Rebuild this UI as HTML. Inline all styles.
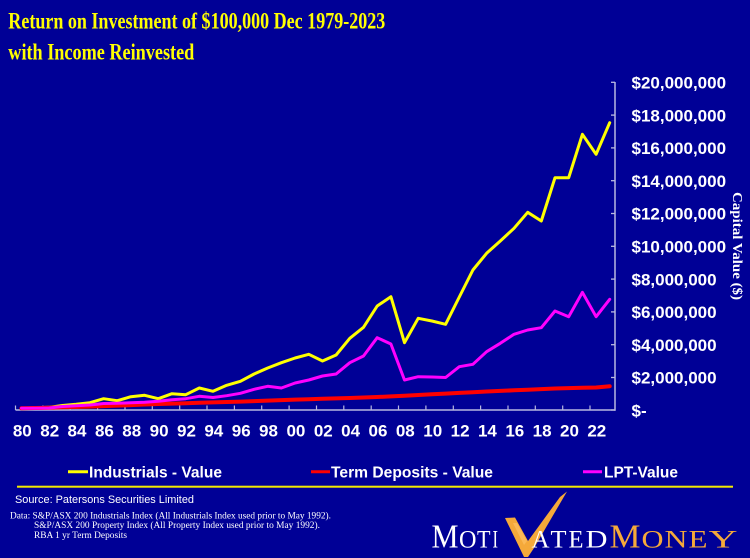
<!DOCTYPE html>
<html>
<head>
<meta charset="utf-8">
<style>
html,body{margin:0;padding:0;background:#000096;}
body{width:750px;height:558px;overflow:hidden;}
svg{display:block;}
</style>
</head>
<body>
<svg width="750" height="558" viewBox="0 0 750 558" xmlns="http://www.w3.org/2000/svg">
<rect x="0" y="0" width="750" height="558" fill="#000096"/>

<!-- Title -->
<text x="8.3" y="28.3" font-family="Liberation Serif, serif" font-weight="bold" font-size="23.5" fill="#FFFF00" textLength="377" lengthAdjust="spacingAndGlyphs">Return on Investment of $100,000 Dec 1979-2023</text>
<text x="8.3" y="59.3" font-family="Liberation Serif, serif" font-weight="bold" font-size="23.5" fill="#FFFF00" textLength="186" lengthAdjust="spacingAndGlyphs">with Income Reinvested</text>

<!-- Axes -->
<g stroke="#B8B8E0" stroke-width="1.5" fill="none">
  <line x1="15.5" y1="410" x2="615.5" y2="410"/>
  <line x1="615" y1="82" x2="615" y2="410.7"/>
</g>
<!-- y ticks -->
<g stroke="#B8B8E0" stroke-width="1.3">
  <line x1="611" y1="82.3" x2="615" y2="82.3"/>
  <line x1="611" y1="115.1" x2="615" y2="115.1"/>
  <line x1="611" y1="147.9" x2="615" y2="147.9"/>
  <line x1="611" y1="180.7" x2="615" y2="180.7"/>
  <line x1="611" y1="213.5" x2="615" y2="213.5"/>
  <line x1="611" y1="246.3" x2="615" y2="246.3"/>
  <line x1="611" y1="279.1" x2="615" y2="279.1"/>
  <line x1="611" y1="311.9" x2="615" y2="311.9"/>
  <line x1="611" y1="344.7" x2="615" y2="344.7"/>
  <line x1="611" y1="377.5" x2="615" y2="377.5"/>
  <line x1="611" y1="410" x2="615" y2="410"/>
</g>
<!-- x ticks -->
<g stroke="#B8B8E0" stroke-width="1.2">
  <line x1="15.5" y1="405.5" x2="15.5" y2="410"/>
  <line x1="42.9" y1="405.5" x2="42.9" y2="410"/>
  <line x1="70.2" y1="405.5" x2="70.2" y2="410"/>
  <line x1="97.6" y1="405.5" x2="97.6" y2="410"/>
  <line x1="125.0" y1="405.5" x2="125.0" y2="410"/>
  <line x1="152.3" y1="405.5" x2="152.3" y2="410"/>
  <line x1="179.7" y1="405.5" x2="179.7" y2="410"/>
  <line x1="207.0" y1="405.5" x2="207.0" y2="410"/>
  <line x1="234.4" y1="405.5" x2="234.4" y2="410"/>
  <line x1="261.7" y1="405.5" x2="261.7" y2="410"/>
  <line x1="289.1" y1="405.5" x2="289.1" y2="410"/>
  <line x1="316.5" y1="405.5" x2="316.5" y2="410"/>
  <line x1="343.8" y1="405.5" x2="343.8" y2="410"/>
  <line x1="371.2" y1="405.5" x2="371.2" y2="410"/>
  <line x1="398.5" y1="405.5" x2="398.5" y2="410"/>
  <line x1="425.9" y1="405.5" x2="425.9" y2="410"/>
  <line x1="453.3" y1="405.5" x2="453.3" y2="410"/>
  <line x1="480.6" y1="405.5" x2="480.6" y2="410"/>
  <line x1="508.0" y1="405.5" x2="508.0" y2="410"/>
  <line x1="535.3" y1="405.5" x2="535.3" y2="410"/>
  <line x1="562.7" y1="405.5" x2="562.7" y2="410"/>
  <line x1="590.0" y1="405.5" x2="590.0" y2="410"/>
</g>

<!-- Y labels -->
<g font-family="Liberation Sans, Arial, sans-serif" font-weight="bold" font-size="17" fill="#FFFFFF">
  <text x="631.5" y="88.5">$20,000,000</text>
  <text x="631.5" y="121.3">$18,000,000</text>
  <text x="631.5" y="154.1">$16,000,000</text>
  <text x="631.5" y="186.9">$14,000,000</text>
  <text x="631.5" y="219.7">$12,000,000</text>
  <text x="631.5" y="252.5">$10,000,000</text>
  <text x="631.5" y="285.3">$8,000,000</text>
  <text x="631.5" y="318.1">$6,000,000</text>
  <text x="631.5" y="350.9">$4,000,000</text>
  <text x="631.5" y="383.7">$2,000,000</text>
  <text x="631.5" y="416.3">$-</text>
</g>

<!-- Right axis title -->
<text transform="translate(733,246) rotate(90)" x="0" y="0" text-anchor="middle" font-family="Liberation Serif, serif" font-weight="bold" font-size="14" fill="#FFFFFF" textLength="108" lengthAdjust="spacingAndGlyphs">Capital Value ($)</text>

<!-- X labels -->
<g font-family="Liberation Sans, Arial, sans-serif" font-weight="bold" font-size="17" fill="#FFFFFF" text-anchor="middle">
  <text x="22.3" y="436.3">80</text>
  <text x="49.7" y="436.3">82</text>
  <text x="77.0" y="436.3">84</text>
  <text x="104.4" y="436.3">86</text>
  <text x="131.7" y="436.3">88</text>
  <text x="159.1" y="436.3">90</text>
  <text x="186.5" y="436.3">92</text>
  <text x="213.8" y="436.3">94</text>
  <text x="241.2" y="436.3">96</text>
  <text x="268.5" y="436.3">98</text>
  <text x="295.9" y="436.3">00</text>
  <text x="323.3" y="436.3">02</text>
  <text x="350.6" y="436.3">04</text>
  <text x="378.0" y="436.3">06</text>
  <text x="405.3" y="436.3">08</text>
  <text x="432.7" y="436.3">10</text>
  <text x="460.1" y="436.3">12</text>
  <text x="487.4" y="436.3">14</text>
  <text x="514.8" y="436.3">16</text>
  <text x="542.1" y="436.3">18</text>
  <text x="569.5" y="436.3">20</text>
  <text x="596.8" y="436.3">22</text>
</g>

<!-- Series -->
<g fill="none" stroke-linejoin="round" stroke-linecap="round">
<polyline stroke="#FFFF00" stroke-width="3" points="21.5,408.3 35.2,407.8 48.9,407.3 62.5,405.5 76.2,404.3 89.9,402.7 103.6,398.7 117.3,400.7 130.9,396.7 144.6,395.3 158.3,398.7 172.0,393.7 185.7,394.7 199.3,388 213.0,391.3 226.7,385.3 240.4,381.3 254.1,374 267.7,368 281.4,362.7 295.1,358 308.8,354.3 322.5,361 336.1,355 349.8,338.3 363.5,327.3 377.2,306 390.9,296.7 404.5,342.7 418.2,318.3 431.9,321 445.6,324.3 459.3,297 472.9,270 486.6,253.3 500.3,241 514.0,228.3 527.7,212.3 541.3,221 555.0,177.7 568.7,177.7 582.4,134.3 596.1,154.3 609.7,122.7"/>
<polyline stroke="#FF0000" stroke-width="4" points="21.5,408.3 35.2,408 48.9,407.7 62.5,407.3 76.2,407 89.9,406.6 103.6,406.1 117.3,405.6 130.9,405.1 144.6,404.5 158.3,404 172.0,403.6 185.7,403.2 199.3,402.8 213.0,402.4 226.7,402 240.4,401.6 254.1,401.1 267.7,400.6 281.4,400.1 295.1,399.6 308.8,399.2 322.5,398.8 336.1,398.4 349.8,398 363.5,397.5 377.2,397 390.9,396.4 404.5,395.7 418.2,395 431.9,394.3 445.6,393.6 459.3,392.9 472.9,392.2 486.6,391.5 500.3,390.9 514.0,390.3 527.7,389.7 541.3,389.1 555.0,388.5 568.7,388.1 582.4,387.8 596.1,387.5 609.7,386.2"/>
<polyline stroke="#FF00FF" stroke-width="3" points="21.5,408.3 35.2,408.3 48.9,408 62.5,406.5 76.2,405.7 89.9,405 103.6,403.5 117.3,403.3 130.9,402.7 144.6,402.3 158.3,401.3 172.0,399.7 185.7,398.7 199.3,396.3 213.0,397.5 226.7,395.7 240.4,393.3 254.1,389.3 267.7,386.3 281.4,388 295.1,383 308.8,380 322.5,376 336.1,374 349.8,362.7 363.5,356 377.2,337.7 390.9,344 404.5,380 418.2,376.7 431.9,377 445.6,377.5 459.3,366.7 472.9,364.3 486.6,351.7 500.3,343.3 514.0,334.3 527.7,330 541.3,327.7 555.0,311 568.7,316.7 582.4,292.3 596.1,316.7 609.7,299.3"/>
</g>

<!-- Legend -->
<g stroke-width="3">
  <line x1="68" y1="471.7" x2="88" y2="471.7" stroke="#FFFF00"/>
  <line x1="311" y1="471.7" x2="330" y2="471.7" stroke="#FF0000"/>
  <line x1="583" y1="471.7" x2="602" y2="471.7" stroke="#FF00FF"/>
</g>
<g font-family="Liberation Sans, Arial, sans-serif" font-weight="bold" font-size="15.5" fill="#FFFFFF">
  <text x="89" y="477.3" textLength="133" lengthAdjust="spacingAndGlyphs">Industrials - Value</text>
  <text x="331" y="477.3" textLength="162" lengthAdjust="spacingAndGlyphs">Term Deposits - Value</text>
  <text x="604" y="477.3" textLength="74" lengthAdjust="spacingAndGlyphs">LPT-Value</text>
</g>

<!-- Divider -->
<rect x="17" y="485.7" width="716" height="2" fill="#F2EA00"/>

<!-- Source -->
<text x="15" y="503" font-family="Liberation Sans, Arial, sans-serif" font-size="11" fill="#FFFFFF" textLength="179" lengthAdjust="spacingAndGlyphs">Source: Patersons Securities Limited</text>
<g font-family="Liberation Serif, serif" font-size="9.6" fill="#FFFFFF">
  <text x="10" y="518.5" textLength="321" lengthAdjust="spacingAndGlyphs">Data: S&amp;P/ASX 200 Industrials Index (All Industrials Index used prior to May 1992).</text>
  <text x="34" y="528" textLength="286" lengthAdjust="spacingAndGlyphs">S&amp;P/ASX 200 Property Index (All Property Index used prior to May 1992).</text>
  <text x="34" y="538" textLength="93" lengthAdjust="spacingAndGlyphs">RBA 1 yr Term Deposits</text>
</g>

<!-- Logo -->
<polygon points="505,518 515,517.5 528,541 560,497 567,491.5 534,548 528,557 524,557" fill="#F5A93A"/>
<polygon points="513,523 517,523 527,541 524,545" fill="#FFC46A" opacity="0.6"/>
<g font-family="Liberation Serif, serif" fill="#FFFFFF">
  <text x="431.5" y="547.7" font-size="34" textLength="27" lengthAdjust="spacingAndGlyphs">M</text>
  <text x="459" y="547.7" font-size="25" textLength="17.5" lengthAdjust="spacingAndGlyphs">O</text>
  <text x="477" y="547.7" font-size="25" textLength="13.5" lengthAdjust="spacingAndGlyphs">T</text>
  <text x="492.5" y="547.7" font-size="25" textLength="5.5" lengthAdjust="spacingAndGlyphs">I</text>
  <text x="531.5" y="547.7" font-size="25" textLength="18" lengthAdjust="spacingAndGlyphs">A</text>
  <text x="550.5" y="547.7" font-size="25" textLength="16" lengthAdjust="spacingAndGlyphs">T</text>
  <text x="568.5" y="547.7" font-size="25" textLength="15" lengthAdjust="spacingAndGlyphs">E</text>
  <text x="585.5" y="547.7" font-size="25" textLength="22" lengthAdjust="spacingAndGlyphs">D</text>
</g>
<g font-family="Liberation Serif, serif" fill="#F5A93A">
  <text x="609.5" y="547.7" font-size="34" textLength="31" lengthAdjust="spacingAndGlyphs">M</text>
  <text x="641.5" y="547.7" font-size="25" textLength="22" lengthAdjust="spacingAndGlyphs">O</text>
  <text x="664.5" y="547.7" font-size="25" textLength="23" lengthAdjust="spacingAndGlyphs">N</text>
  <text x="688.5" y="547.7" font-size="25" textLength="19" lengthAdjust="spacingAndGlyphs">E</text>
  <text x="708.5" y="547.7" font-size="25" textLength="29" lengthAdjust="spacingAndGlyphs">Y</text>
</g>
</svg>
</body>
</html>
